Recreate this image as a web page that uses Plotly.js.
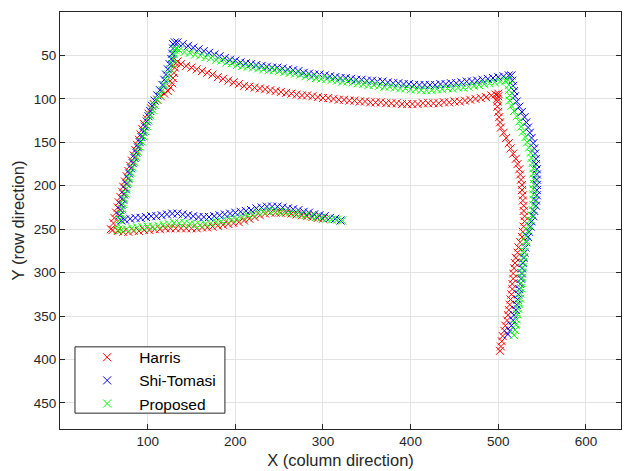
<!DOCTYPE html>
<html>
<head>
<meta charset="utf-8">
<script src="https://cdn.plot.ly/plotly-3.0.1.min.js"></script>
<style>html,body{margin:0;padding:0;background:#fff;}#chart{width:627px;height:471px;}</style>
</head>
<body>
<div id="chart"></div>
<script>
// Harris trajectory (x = column, y = row)
const harrisX = [300,294,288,282,276,270,264,258,252,246,240,234,228,222,216,210,204,198,192,186,180,174,168,162,156,150,144,138,132,126,120,114,108,102,96,90,84,78,72,66,60,58,
61,62,64,66,67,69,71,72,74,76,78,80,82,84,86,88,90,92,94,96,99,101,104,107,111,115,119,123,126,128,129,130,131,132,134,
138,144,150,156,162,168,174,180,186,192,198,204,210,216,222,228,234,240,246,252,258,264,270,276,282,288,294,300,306,312,318,324,330,336,342,348,354,360,366,372,378,384,390,396,402,408,414,420,426,432,438,444,450,456,462,468,474,480,486,492,497,500,500,499,499,
499,500,501,502,503,506,509,512,514,517,520,522,524,525,526,527,527,528,528,529,529,530,530,529,528,527,525,523,522,520,519,518,517,517,516,516,515,514,513,512,511,510,508,507,505,504,503,502];
const harrisY = [238,237,236,235,234,233,232,231,231,231,231,232,234,236,238,240,242,243,244,245,246,247,248,248,249,249,249,249,249,249,249,250,250,251,251,252,252,253,253,252,251,250,
243,237,231,225,219,213,207,201,195,189,183,177,171,165,159,153,147,141,135,129,123,117,111,106,101,97,94,91,87,82,76,70,64,59,57,
60,62,64,66,68,70,72,75,77,79,81,83,85,86,87,88,89,90,91,92,93,94,95,96,96,97,98,99,99,100,101,101,102,102,103,103,104,104,104,105,105,105,106,106,106,106,105,105,105,105,104,104,103,103,102,101,100,99,98,96,95,94,97,100,103,
109,115,121,127,133,139,145,151,157,163,169,175,181,187,193,199,205,211,217,223,229,235,241,247,253,259,265,271,277,283,289,295,301,307,313,319,325,331,337,343,349,355,361,367,373,379,385,390];

// Shi-Tomasi trajectory
const shiX = [320,314,308,302,296,290,284,278,272,266,260,254,248,242,236,230,224,218,212,206,200,194,188,182,176,170,164,158,152,146,140,134,128,122,116,110,104,98,92,86,80,74,70,
68,69,70,72,73,75,76,78,79,81,83,85,87,89,91,93,95,97,99,101,103,105,108,111,114,117,119,121,123,125,127,128,129,129,131,
134,140,146,152,158,164,170,176,182,188,194,200,206,212,218,224,230,236,242,248,254,260,266,272,278,284,290,296,302,308,314,320,326,332,338,344,350,356,362,368,374,380,386,392,398,404,410,416,422,428,434,440,446,452,458,464,470,476,482,488,494,500,506,512,515,
516,517,518,519,521,524,527,530,532,534,536,538,540,541,542,543,543,544,544,544,544,544,544,543,543,541,540,538,537,535,534,532,531,530,529,528,527,527,526,525,524,523,522,521,520,518,517,515,513,511];
const shiY = [240,238,237,235,234,233,231,230,228,227,226,225,224,224,224,225,226,228,229,230,231,232,233,234,235,236,236,236,235,234,233,232,232,233,234,235,235,236,237,237,238,239,240,
234,228,222,216,210,204,198,192,186,180,174,168,162,156,150,144,138,132,126,120,114,108,102,96,90,84,78,72,66,60,54,48,42,37,35,
35,37,39,41,43,45,47,49,51,53,55,56,58,59,60,61,62,63,64,64,65,66,67,68,70,71,72,72,73,74,75,76,76,77,78,78,79,79,80,80,81,82,82,83,83,84,84,84,84,84,83,83,82,82,81,80,80,79,78,77,76,75,74,73,73,
79,85,91,97,103,109,115,121,127,133,139,145,151,157,163,169,175,181,187,193,199,205,211,217,223,229,235,241,247,253,259,265,271,277,283,289,295,301,307,313,319,325,331,337,343,349,355,361,367,371];

// Proposed trajectory
const propX = [322,316,310,304,298,292,286,280,274,268,262,256,250,244,238,232,226,220,214,208,202,196,190,184,178,172,166,160,154,148,142,136,130,124,118,112,106,100,94,88,82,76,70,66,
67,68,70,71,72,73,75,76,78,79,81,83,85,87,89,91,93,95,97,99,101,103,106,108,111,114,117,119,122,124,126,128,129,130,131,132,
136,142,148,154,160,166,172,178,184,190,196,202,208,214,220,226,232,238,244,250,256,262,268,274,280,286,292,298,304,310,316,322,328,334,340,346,352,358,364,370,376,382,388,394,400,406,412,418,424,430,436,442,448,454,460,466,472,478,484,490,496,502,508,511,
512,512,513,513,515,518,521,524,526,528,531,533,535,537,538,539,540,540,541,541,540,540,540,540,539,538,536,535,534,532,531,530,529,529,528,528,527,527,526,526,525,525,524,523,522,521,520,519,518];
const propY = [240,239,239,238,237,236,235,234,233,232,231,230,230,229,229,230,231,233,234,236,238,239,240,241,242,243,244,245,245,244,243,243,243,244,245,246,247,247,248,248,249,250,251,251,
245,239,233,227,221,215,209,203,197,191,185,179,173,167,161,155,149,143,137,131,125,119,113,107,101,96,90,84,78,72,66,60,54,48,44,42,
44,46,47,49,50,52,53,55,56,58,59,61,62,63,64,65,66,67,67,68,69,70,71,72,74,75,76,77,77,78,79,80,80,81,82,83,84,84,85,86,86,87,88,88,89,89,90,90,90,89,89,88,88,87,87,86,85,84,83,82,81,80,79,78,
84,90,96,102,108,114,120,126,132,138,144,150,156,162,168,174,180,186,192,198,204,210,216,222,228,234,240,246,252,258,264,270,276,282,288,294,300,306,312,318,324,330,336,342,348,354,360,366,372];

const seriesNames = ['Harris', 'Shi-Tomasi', 'Proposed'];
const seriesColors = ['#ff0000', '#0000ff', '#00ff00'];
const xTicks = [100, 200, 300, 400, 500, 600];
const yTicks = [50, 100, 150, 200, 250, 300, 350, 400, 450];

const xs = [harrisX, shiX, propX];
const ys = [harrisY, shiY, propY];

const traces = seriesNames.map((name, i) => ({
  type: 'scatter',
  mode: 'markers',
  name: name,
  x: xs[i],
  y: ys[i],
  marker: {symbol: 'x-thin', size: 8, color: seriesColors[i], line: {color: seriesColors[i], width: 1}}
}));

const axisFont = {family: 'Liberation Sans, Arial, Helvetica, sans-serif', size: 13.5, color: '#262626'};
const titleFont = {family: 'Liberation Sans, Arial, sans-serif', size: 16.5, color: '#262626'};

const layout = {
  width: 627, height: 471,
  margin: {l: 60, r: 6, t: 12, b: 42},
  paper_bgcolor: '#ffffff',
  plot_bgcolor: '#ffffff',
  showlegend: true,
  legend: {
    x: 0.027, y: 0.02, xanchor: 'left', yanchor: 'bottom',
    bgcolor: 'rgba(0,0,0,0)', borderwidth: 0,
    font: {family: 'Liberation Sans, Arial, sans-serif', size: 15.5, color: '#000'},
    itemwidth: 54, tracegroupgap: 0
  },
  // legend frame (MATLAB-style tight box)
  shapes: [{
    type: 'rect', xref: 'paper', yref: 'paper', layer: 'above',
    x0: 0.0267, x1: 0.294, y0: 0.038, y1: 0.197,
    line: {color: '#262626', width: 1}, fillcolor: '#ffffff'
  }],
  xaxis: {
    range: [0, 640], tickvals: xTicks, ticktext: xTicks.map(String),
    showgrid: true, gridcolor: '#e3e3e3', gridwidth: 1,
    zeroline: false, showline: true, linecolor: '#262626', linewidth: 1, mirror: 'ticks',
    ticks: 'inside', ticklen: 5, tickcolor: '#262626',
    tickfont: axisFont,
    title: {text: 'X (column direction)', font: titleFont, standoff: 6}
  },
  yaxis: {
    range: [480, 0], tickvals: yTicks, ticktext: yTicks.map(String),
    showgrid: true, gridcolor: '#e3e3e3', gridwidth: 1,
    zeroline: false, showline: true, linecolor: '#262626', linewidth: 1, mirror: 'ticks',
    ticks: 'inside', ticklen: 5, tickcolor: '#262626',
    tickfont: axisFont,
    title: {text: 'Y (row direction)', font: titleFont, standoff: 4}
  }
};

Plotly.newPlot('chart', traces, layout, {displayModeBar: false, staticPlot: true});
</script>
</body>
</html>
